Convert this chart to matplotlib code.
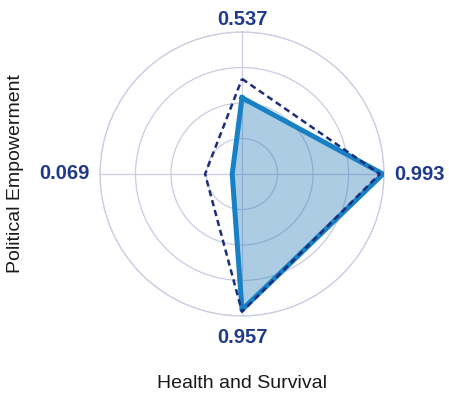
import numpy as np
import matplotlib.pyplot as plt

plt.rcParams['font.family'] = ['Liberation Sans', 'DejaVu Sans']

# axes go clockwise from the top
axis_labels = ["0.537", "0.993", "0.957", "0.069"]
country = [0.537, 0.993, 0.957, 0.069]
benchmark = [0.67, 0.97, 0.97, 0.26]

n = len(country)
theta = np.arange(n) * 2 * np.pi / n
theta_c = np.append(theta, theta[0])
country_c = np.append(country, country[0])
bench_c = np.append(benchmark, benchmark[0])

fig = plt.figure(figsize=(4.49, 4.01), dpi=100)
ax = fig.add_axes([100 / 449, 85 / 401, 284 / 449, 284 / 401], projection='polar')
ax.set_theta_offset(np.pi / 2)
ax.set_theta_direction(-1)
ax.set_ylim(0, 1)

grid_col = '#c9cce2'
ax.set_rticks([0.25, 0.5, 0.75, 1.0])
ax.set_yticklabels([])
ax.set_xticks(theta)
ax.set_xticklabels([])
ax.grid(True, color=grid_col, linewidth=0.9)
ax.spines['polar'].set_color(grid_col)
ax.spines['polar'].set_linewidth(0.9)

ax.fill(theta_c, country_c, color='#1f77b4', alpha=0.37, zorder=2, linewidth=0)
ax.plot(theta_c, country_c, color='#1880c4', linewidth=3.6, solid_joinstyle='round', zorder=3)
ax.plot(theta_c, bench_c, color='#1c2d7c', linewidth=1.8, linestyle=(0, (2.5, 1.6)),
        dash_joinstyle='round', dash_capstyle='butt', zorder=4)

# value labels just outside the outer ring (offsets in pixels)
label_pos = [((0, 7), 'center'), ((10, -6), 'left'), ((0, -27), 'center'), ((-10, -5), 'right')]
for t, lab, (off, ha) in zip(theta, axis_labels, label_pos):
    ax.annotate(lab, xy=(t, 1), xycoords='data', xytext=off, textcoords='offset pixels',
                ha=ha, va='baseline', fontsize=14.5, fontweight='bold',
                color='#1f3a8c', annotation_clip=False)

fig.text(16 / 449, 1 - 174 / 401, "Political Empowerment", rotation=90,
         ha='center', va='center', fontsize=14, color='#1a1a1a')
fig.text(242 / 449, 1 - 383 / 401, "Health and Survival",
         ha='center', va='center', fontsize=14, color='#1a1a1a')

fig.savefig('out.png', dpi=100)
